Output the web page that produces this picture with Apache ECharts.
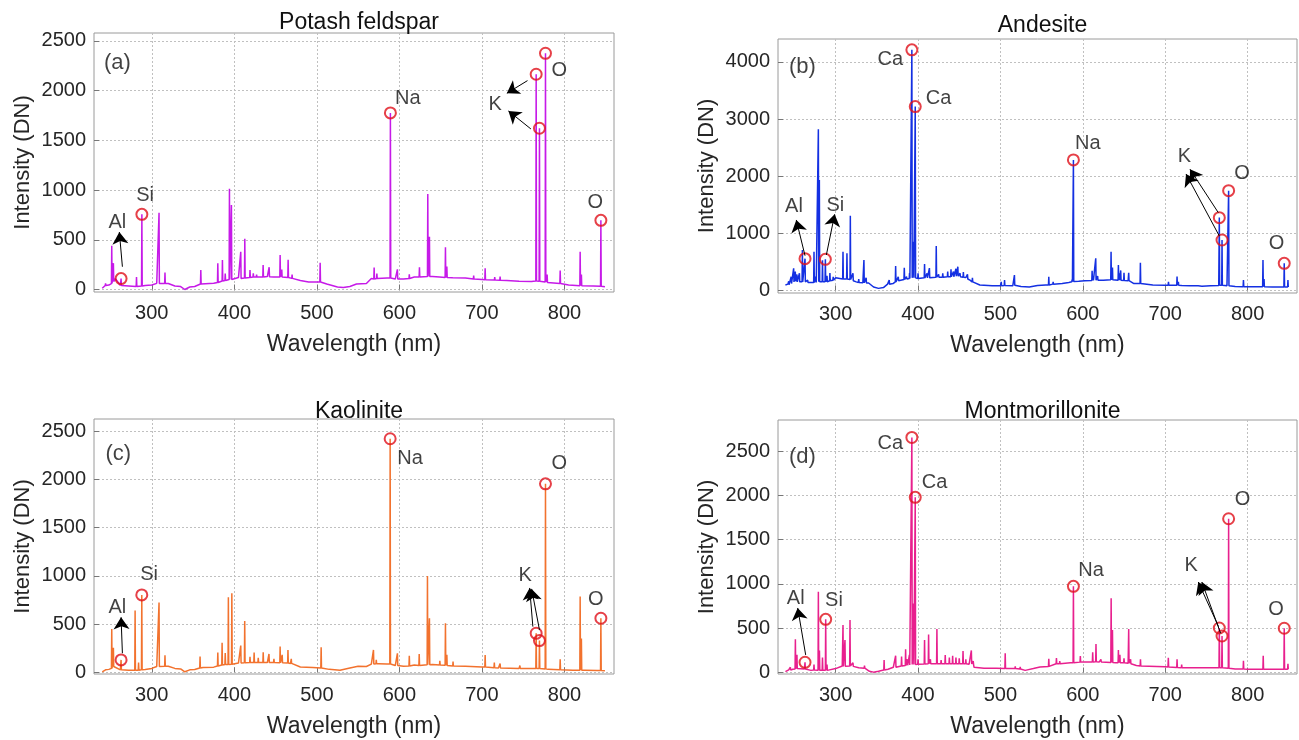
<!DOCTYPE html>
<html>
<head>
<meta charset="utf-8">
<script src="https://cdn.jsdelivr.net/npm/echarts@6/dist/echarts.min.js"></script>
<style>
  html, body { margin: 0; padding: 0; background: #ffffff; }
  #chart { width: 1299px; height: 740px; }
</style>
</head>
<body>
<div id="chart"></div>
<script>
// ---- axis ticks and sample names ----
const wavelengthTicks = [300, 400, 500, 600, 700, 800];
const sampleNames = ['Potash feldspar', 'Andesite', 'Kaolinite', 'Montmorillonite'];
const panelTags = ['(a)', '(b)', '(c)', '(d)'];
const feldsparTicks = [0, 500, 1000, 1500, 2000, 2500];
const andesiteTicks = [0, 1000, 2000, 3000, 4000];
const kaoliniteTicks = [0, 500, 1000, 1500, 2000, 2500];
const montmorilloniteTicks = [0, 500, 1000, 1500, 2000, 2500];

// ---- Potash feldspar: continuum [nm, DN] and emission lines [nm, peak DN, foot DN] ----
const feldsparContinuum = [[240,12],[244,40],[248,45],[256,110],[262,40],[272,35],[282,30],[292,40],[300,45],[306,62],[320,60],[328,35],[335,30],[340,0],[346,25],[352,30],[362,60],[375,62],[387,95],[398,100],[405,120],[420,125],[440,130],[460,120],[468,115],[480,90],[490,75],[500,75],[512,55],[525,25],[532,20],[540,30],[548,55],[560,60],[566,110],[575,120],[585,115],[595,105],[605,105],[618,125],[640,130],[660,120],[680,115],[700,100],[715,95],[730,90],[745,82],[760,80],[780,65],[795,60],[805,45],[820,38],[835,35],[849,28]];
const feldsparLines = [[244,62,40],[251.5,440,60],[253.5,265,80],[262.8,110,40],[281.5,125,30],[288,756,35],[308.8,773,60],[316,170,60],[359.4,196,55],[380,263,70],[385.6,297,85],[389,160,90],[394.1,1014,100],[396.5,850,100],[407.8,380,110],[412.7,511,115],[419,196,120],[423,163,125],[427,150,125],[434.9,246,125],[442.2,224,128],[448,140,125],[455.5,347,125],[457.5,200,125],[465.2,300,120],[470,150,112],[504,270,75],[569.4,220,105],[572.7,160,110],[589.1,1776,115],[597.6,203,105],[612,153,110],[624.3,223,125],[634.4,961,130],[636.4,531,130],[649,145,125],[655.8,424,120],[657.5,230,120],[665,125,118],[690,140,105],[703.9,213,98],[715.5,125,95],[722,130,92],[746,90,82],[765.7,2165,85],[769.7,1622,82],[777,2376,75],[779,150,70],[794.8,190,60],[819,381,38],[820.5,150,38],[844.1,696,32]];
const feldsparMarked = [262.8, 288, 589.1, 765.7, 769.7, 777, 844.1];

// ---- Andesite ----
const andesiteContinuum = [[239,95],[242,110],[248,140],[255,150],[262,140],[270,140],[285,150],[290,150],[300,190],[310,200],[320,180],[325,150],[333,135],[340,130],[346,60],[352,36],[358,50],[363,110],[370,125],[378,170],[385,195],[390,210],[400,215],[410,225],[430,235],[450,240],[458,225],[463,180],[468,120],[475,95],[490,80],[500,80],[515,80],[525,70],[535,60],[545,85],[555,95],[565,110],[575,120],[583,140],[595,160],[605,170],[625,180],[645,180],[655,170],[662,120],[672,110],[685,95],[700,90],[720,85],[740,80],[755,80],[765,85],[775,80],[785,70],[800,65],[815,65],[830,60],[849,60]];
const andesiteLines = [[243,160,100],[246,240,120],[249,387,150],[251,330,160],[253,280,150],[256,300,150],[259.6,707,150],[262.8,556,150],[266,180,140],[273.7,678,140],[276,240,140],[279,2821,150],[280.2,1933,150],[284,530,150],[287.5,544,150],[289.5,255,150],[293,303,170],[297,240,180],[300,220,190],[308.9,678,200],[313.7,650,200],[317.8,1308,190],[321,300,170],[328,200,140],[334.3,532,135],[337,220,130],[365,180,110],[370,150,120],[372.8,427,150],[376,240,170],[383.3,398,190],[386,240,200],[389.7,305,210],[392.5,4210,220],[394.5,850,220],[396.6,3217,220],[400,300,210],[407.9,462,220],[411,300,220],[413.8,390,220],[422.1,777,230],[425,280,230],[430,300,230],[436,330,240],[440,370,240],[443,330,240],[446,380,250],[448.3,415,250],[451,300,240],[455,320,230],[460,280,200],[466,220,150],[501,150,80],[505,180,85],[517,270,90],[527,100,70],[558.7,240,95],[564,150,110],[587,190,150],[588.6,2284,155],[597,190,160],[603,170,170],[611.3,345,175],[612.5,250,175],[615.7,562,180],[618,250,180],[622,200,180],[634.3,678,185],[636,400,185],[643.2,445,180],[644.5,300,180],[646,350,180],[650,310,175],[655.7,310,170],[669.9,486,120],[704,150,90],[714.4,245,90],[716,150,90],[730,100,80],[745,90,75],[765.7,1274,90],[769,883,90],[777,1746,80],[795,180,65],[818.7,532,65],[820,200,65],[844.5,474,60],[849,180,60]];
const andesiteMarked = [262.8, 287.5, 392.5, 396.6, 588.6, 765.7, 769, 777, 844.5];

// ---- Kaolinite ----
const kaoliniteContinuum = [[240,5],[244,25],[248,30],[256,60],[262,25],[272,20],[282,20],[292,28],[300,40],[306,60],[320,62],[328,40],[335,35],[340,5],[346,25],[352,28],[362,50],[375,53],[387,75],[398,80],[405,95],[420,100],[440,100],[460,95],[468,90],[480,55],[495,50],[505,40],[515,30],[528,20],[540,45],[550,62],[560,60],[566,85],[575,88],[585,85],[595,70],[605,62],[618,75],[640,80],[660,75],[680,62],[700,55],[720,45],[745,40],[760,40],[780,30],[795,25],[810,20],[825,20],[840,18],[849,15]];
const kaoliniteLines = [[251.5,449,40],[253.5,255,60],[262.8,128,25],[279.8,639,20],[284,100,22],[287.9,802,25],[308.8,722,60],[316,175,62],[358.5,162,45],[380,204,65],[385.2,307,75],[389,200,80],[392.8,778,80],[397,819,82],[407.8,276,95],[412.6,532,98],[419,160,100],[424,204,100],[429,150,100],[435,207,100],[442,190,100],[448,140,100],[455.5,266,98],[458,180,98],[465,230,95],[469,140,92],[505.2,259,45],[568.6,231,85],[572,130,88],[588.8,2420,85],[597.6,197,70],[612,172,65],[624,190,70],[634,999,78],[636.4,560,78],[649,120,75],[655.8,508,72],[657.5,180,70],[665,110,65],[703.9,179,55],[715,100,48],[722,90,45],[746,70,40],[765.7,404,40],[769.7,328,40],[777,1953,35],[794.8,135,25],[819,785,20],[820.5,350,20],[844.1,560,18]];
const kaoliniteMarked = [262.8, 287.9, 588.8, 765.7, 769.7, 777, 844.1];

// ---- Montmorillonite ----
const montmorilloniteContinuum = [[239,10],[243,30],[248,38],[255,55],[262,40],[270,25],[285,25],[292,38],[300,45],[308,74],[320,74],[328,55],[335,50],[341,15],[346,5],[352,15],[360,38],[370,60],[380,74],[390,85],[400,95],[420,100],[440,100],[462,95],[468,60],[480,50],[495,50],[510,45],[520,45],[530,25],[540,45],[548,62],[560,80],[570,100],[585,110],[600,120],[620,120],[640,110],[655,105],[665,80],[680,72],[700,65],[720,55],[740,55],[760,55],[785,40],[800,38],[820,38],[849,38]];
const montmorilloniteLines = [[245,60,30],[251.1,375,40],[253,200,45],[262.8,116,40],[273.7,90,30],[279,913,25],[280.3,250,25],[284,170,25],[287.9,601,25],[289.5,90,25],[308.9,537,70],[311.3,368,72],[317.4,593,74],[321,110,70],[335,80,50],[358.8,142,30],[364,60,38],[372.8,191,60],[380,180,74],[384.9,262,80],[387,150,82],[389.5,200,85],[392.5,2653,90],[394.5,780,90],[396.6,1977,92],[400,150,95],[407.9,367,98],[412.8,431,100],[415,150,100],[422.9,492,100],[428,140,100],[433,198,100],[438,170,100],[442,190,100],[446,170,100],[450,160,100],[454.6,243,100],[458,150,100],[464.7,250,98],[467,130,90],[505.8,217,45],[518,70,45],[524,65,40],[558.7,157,70],[568,165,100],[572,130,100],[588.6,973,110],[597,187,118],[612,229,120],[616,322,122],[622,150,120],[634.4,838,115],[636,480,115],[643.2,255,112],[645,200,112],[650,160,110],[655.7,492,105],[658,150,100],[670,150,75],[703.8,168,62],[714.4,150,58],[720,90,55],[730,70,55],[745,70,55],[765.7,503,55],[769,413,55],[777,1736,50],[795,134,40],[819,191,38],[844.5,500,38],[849,100,38]];
const montmorilloniteMarked = [262.8, 287.9, 392.5, 396.6, 588.6, 765.7, 769, 777, 844.5];

// ---- element labels [text, nm, DN] and arrows [from nm, from DN, to nm, to DN] ----
const feldsparLabels = [['Al',258.3,672],['Si',291.9,944],['Na',610.2,1924],['K',716,1866],['O',793.6,2201],['O',837.2,877]];
const feldsparArrows = [[264.4,229,260.7,578],[755.2,2101,730.2,1974],[759.3,1615,732.1,1796]];
const andesiteLabels = [['Ca',366.3,4047],['Ca',424.9,3364],['Al',249.4,1466],['Si',299.6,1483],['Na',606,2576],['K',723.2,2342],['O',793.2,2039],['O',835.2,825]];
const andesiteArrows = [[262.8,608,252.2,1233],[288.7,620,298.8,1333],[764.5,1361,730.1,2121],[765.7,953,725.3,2038]];
const kaoliniteLabels = [['Al',258.3,674],['Si',296.7,1017],['Na',613,2213],['O',793.6,2168],['K',752.4,999],['O',838,757]];
const kaoliniteArrows = [[264.4,197,262.8,570],[761.7,473,757.8,874],[769.7,439,760.2,864]];
const montmorilloniteLabels = [['Ca',366.3,2586],['Ca',420.1,2142],['Al',251.5,838],['Si',297.9,819],['Na',610.1,1149],['K',731.4,1206],['O',793.9,1955],['O',834.4,714]];
const montmorilloniteArrows = [[263.6,199,253.9,729],[764.8,518,740.2,1022],[767.3,443,744.5,1022]];

// ---- drawing ----
const FONT = '"Liberation Sans", Arial, Helvetica, sans-serif';
const TEXT = '#262626';
const LINE_HALF_WIDTH = 0.4; // nm on each side of a line centre

function buildSpectrum(continuum, lines) {
  const pts = [];
  continuum.forEach(([w, v]) => {
    if (!lines.some(l => Math.abs(l[0] - w) < 0.6)) pts.push([w, v]);
  });
  lines.forEach(([w, peak, foot]) => {
    pts.push([w - LINE_HALF_WIDTH, foot], [w, peak], [w + LINE_HALF_WIDTH, foot]);
  });
  pts.sort((a, b) => a[0] - b[0]);
  return pts;
}

const panels = [
  { cont: feldsparContinuum, lines: feldsparLines, marked: feldsparMarked, labels: feldsparLabels, arrows: feldsparArrows,
    ticks: feldsparTicks, yMin: -25, yMax: 2580, color: '#c61ae8', tagPos: [258.3, 2276],
    grid: { left: 94, top: 33, width: 520, height: 259 }, titleTop: 6 },
  { cont: andesiteContinuum, lines: andesiteLines, marked: andesiteMarked, labels: andesiteLabels, arrows: andesiteArrows,
    ticks: andesiteTicks, yMin: -45, yMax: 4400, color: '#1430e2', tagPos: [259.7, 3918],
    grid: { left: 778, top: 39, width: 519, height: 254 }, titleTop: 9 },
  { cont: kaoliniteContinuum, lines: kaoliniteLines, marked: kaoliniteMarked, labels: kaoliniteLabels, arrows: kaoliniteArrows,
    ticks: kaoliniteTicks, yMin: -18, yMax: 2625, color: '#f2722e', tagPos: [259.5, 2261],
    grid: { left: 94, top: 419, width: 520, height: 255 }, titleTop: 395 },
  { cont: montmorilloniteContinuum, lines: montmorilloniteLines, marked: montmorilloniteMarked, labels: montmorilloniteLabels, arrows: montmorilloniteArrows,
    ticks: montmorilloniteTicks, yMin: -16, yMax: 2850, color: '#e8208e', tagPos: [259.7, 2435],
    grid: { left: 778, top: 420, width: 519, height: 254 }, titleTop: 395 }
];

const grids = [], xAxes = [], yAxes = [], series = [], titles = [];

panels.forEach((p, i) => {
  grids.push(Object.assign({ show: true, borderColor: '#9a9a9a', borderWidth: 1, backgroundColor: '#fff' }, p.grid));
  titles.push({
    text: sampleNames[i], left: p.grid.left + p.grid.width / 2, top: p.titleTop, textAlign: 'center',
    textStyle: { fontFamily: FONT, fontSize: 23, fontWeight: 'normal', color: '#111' }
  });
  xAxes.push({
    type: 'value', gridIndex: i, min: 230, max: 860,
    name: 'Wavelength (nm)', nameLocation: 'middle', nameGap: 41,
    nameTextStyle: { fontFamily: FONT, fontSize: 23, color: TEXT },
    axisLine: { show: false },
    axisTick: { show: true, inside: true, length: 5, customValues: wavelengthTicks, lineStyle: { color: '#777' } },
    axisLabel: { customValues: wavelengthTicks, fontFamily: FONT, fontSize: 20, color: TEXT, margin: 11, formatter: v => String(v) },
    splitLine: { show: true, lineStyle: { color: '#c0c0c0', type: [2, 2], width: 1 } }
  });
  yAxes.push({
    type: 'value', gridIndex: i, min: p.yMin, max: p.yMax,
    name: 'Intensity (DN)', nameLocation: 'middle', nameGap: 60, nameRotate: 90,
    nameTextStyle: { fontFamily: FONT, fontSize: 22, color: TEXT },
    axisLine: { show: false },
    axisTick: { show: true, inside: true, length: 5, customValues: p.ticks, lineStyle: { color: '#777' } },
    axisLabel: { customValues: p.ticks, fontFamily: FONT, fontSize: 20, color: TEXT, margin: 8, formatter: v => String(v) },
    splitLine: { show: true, lineStyle: { color: '#c0c0c0', type: [2, 2], width: 1 } }
  });

  // spectrum
  series.push({
    type: 'line', xAxisIndex: i, yAxisIndex: i, data: buildSpectrum(p.cont, p.lines),
    showSymbol: false, symbol: 'none', lineStyle: { color: p.color, width: 1.5 }, z: 2, silent: true,
    markLine: {
      silent: true, symbol: ['none', 'arrow'], symbolSize: 12, animation: false,
      lineStyle: { color: '#000', width: 1, type: 'solid' },
      label: { show: false },
      data: p.arrows.map(a => [{ coord: [a[0], a[1]] }, { coord: [a[2], a[3]] }])
    }
  });

  // highlighted lines
  series.push({
    type: 'scatter', xAxisIndex: i, yAxisIndex: i, z: 4, silent: true,
    symbol: 'circle', symbolSize: 11,
    itemStyle: { color: 'rgba(255,255,255,0)', borderColor: '#e0101a', borderWidth: 2 },
    data: p.marked.map(w => { const l = p.lines.find(q => q[0] === w); return [l[0], l[1]]; })
  });

  // element labels
  series.push({
    type: 'scatter', xAxisIndex: i, yAxisIndex: i, z: 5, silent: true,
    symbolSize: 1, itemStyle: { color: 'rgba(0,0,0,0)' },
    label: { show: true, position: 'inside', formatter: '{b}', fontFamily: FONT, fontSize: 20, color: '#111' },
    data: p.labels.map(l => ({ name: l[0], value: [l[1], l[2]] }))
  });

  // panel tag
  series.push({
    type: 'scatter', xAxisIndex: i, yAxisIndex: i, z: 5, silent: true,
    symbolSize: 1, itemStyle: { color: 'rgba(0,0,0,0)' },
    label: { show: true, position: 'inside', formatter: '{b}', fontFamily: FONT, fontSize: 22, color: '#111' },
    data: [{ name: panelTags[i], value: p.tagPos }]
  });
});

const chart = echarts.init(document.getElementById('chart'), null, { renderer: 'canvas' });
chart.setOption({
  animation: false,
  backgroundColor: '#ffffff',
  title: titles,
  grid: grids,
  xAxis: xAxes,
  yAxis: yAxes,
  series: series
});
</script>
</body>
</html>
